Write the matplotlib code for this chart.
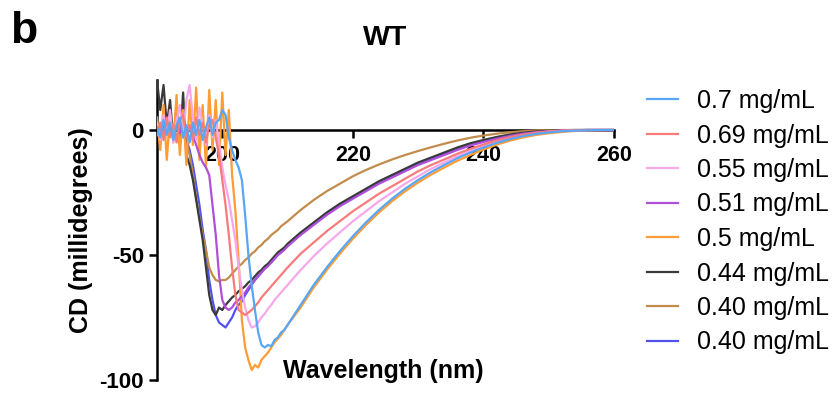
import numpy as np
import matplotlib
matplotlib.use("Agg")
import matplotlib.pyplot as plt

plt.rcParams['font.family'] = ['Liberation Sans', 'DejaVu Sans']
plt.rcParams['axes.unicode_minus'] = False

# wavelength grid (nm): 0.5 nm steps 190-210, then 2 nm steps 212-260
wavelength = np.concatenate([np.arange(190.0, 210.01, 0.5), np.arange(212.0, 260.01, 2.0)])

labels = ["0.7 mg/mL", "0.69 mg/mL", "0.55 mg/mL", "0.51 mg/mL",
          "0.5 mg/mL", "0.44 mg/mL", "0.40 mg/mL", "0.40 mg/mL"]
colors = ["#58a6f5", "#f77b7b", "#f7a8ea", "#b04fd8",
          "#ff9c33", "#3a3a3a", "#c28c4c", "#5252f2"]

cd_070 = [1, -3, 4, -2, 3, -4, 2, 5, -3, 2,
          -5, 3, -2, 4, -4, 1, 5, -2, 3, 4,
          8, 6, -3, -8, -12, -15, -20, -34, -50, -62,
          -72, -81, -86, -87, -86, -86.5, -84, -83, -81, -80,
          -78,
          -70, -62, -55, -48.5, -42.5, -37, -32, -27.5, -23.5, -20,
          -16.8, -14, -11.3, -9, -7, -5.2, -3.7, -2.5, -1.6, -1,
          -0.5, -0.25, -0.1, 0, 0]
cd_069 = [-2, 3, -4, 5, -3, 2, -5, 4, 6, -3,
          2, -4, 5, -2, 3, -5, 2, 4, -3, -10,
          -20, -30, -42, -55, -66, -72, -73, -74, -73, -72,
          -70.5, -69, -67, -65.5, -64, -62.5, -61, -59.5, -58, -56.5,
          -55,
          -49.5, -45, -40.5, -36.5, -32.5, -29, -25.5, -22.5, -19.5, -16.5,
          -14, -11.8, -9.5, -7.5, -5.8, -4.2, -2.9, -1.9, -1.1, -0.6,
          -0.3, -0.1, 0, 0, 0]
cd_055 = [3, -4, 6, -2, 8, -5, 4, 10, -3, 12,
          18, 5, -4, 9, 2, -6, 6, -3, 4, -5,
          -15, -22, -28, -36, -44, -55, -64, -71, -76, -79,
          -78.5, -77, -75, -73.5, -71.5, -70, -68, -66.5, -65, -63.5,
          -62,
          -56, -50.5, -45.5, -41, -36.5, -32.5, -28.5, -25, -21.5, -18.5,
          -15.5, -13, -10.5, -8.3, -6.4, -4.7, -3.3, -2.2, -1.3, -0.7,
          -0.3, -0.1, 0, 0, 0]
cd_051 = [-2, 1, -3, 2, 0, -2, 3, -1, 2, -3,
          1, -2, -6, -10, -13, -15, -18, -30, -42, -58,
          -68, -71, -72, -71, -69, -68, -66.5, -65, -63, -61.5,
          -60, -58.5, -57, -55.5, -54.5, -53, -51.5, -50, -49, -48,
          -46.5,
          -42, -38, -34, -30.5, -27.5, -24.5, -21.5, -19, -16.5, -14,
          -12, -10, -8, -6.2, -4.8, -3.5, -2.4, -1.5, -0.9, -0.5,
          -0.2, -0.1, 0, 0, 0]
cd_050 = [5, -8, 10, -12, 6, -5, 14, -10, 8, -14,
          12, -6, 17, -12, 10, -15, 16, -8, 12, -14,
          15, -10, 8, -18, -32, -52, -76, -87, -92, -96,
          -94, -95, -92, -90.5, -89, -87, -85, -83.5, -82, -80,
          -78,
          -71, -63, -56, -49.5, -43.5, -38, -33, -28.5, -24.5, -21,
          -17.8, -15, -12.3, -10, -7.8, -5.9, -4.3, -3, -2, -1.3,
          -0.8, -0.4, -0.2, -0.1, 0]
cd_044 = [20, 8, 18, 2, 12, -4, 10, -6, 15, -10,
          -14, -20, -28, -36, -44, -55, -66, -72, -74, -71,
          -72, -70, -68.5, -67, -66, -64.5, -63.5, -62.5, -61, -60,
          -58.5, -57, -56, -54.5, -53.5, -52, -50.5, -49, -48, -47,
          -45.5,
          -41, -37, -33, -29.5, -26.5, -23.5, -20.5, -18, -15.5, -13,
          -11, -9, -7, -5.3, -4, -2.8, -1.8, -1.1, -0.6, -0.3,
          -0.1, 0, 0, 0, 0]
cd_040a = [0, 2, -1, 3, -2, 1, -3, 2, -1, -5,
           -10, -18, -27, -35, -42, -48, -55, -58, -60, -60.5,
           -60, -60, -59, -57.5, -56, -54.5, -53.5, -52, -51, -49.5,
           -48.5, -47, -46, -44.5, -43.5, -42, -41, -40, -38.5, -37.5,
           -36.5,
           -32, -28, -24.5, -21.5, -18.5, -16, -13.8, -11.8, -10, -8.4,
           -6.9, -5.5, -4.2, -3.1, -2.2, -1.5, -0.9, -0.5, -0.2, -0.1,
           0, 0, 0, 0, 0]
cd_040b = [1, -2, 2, -1, 3, -2, 1, -3, 2, -4,
           -8, -14, -22, -30, -40, -48, -60, -68, -74, -77,
           -78, -79, -77, -75, -72, -70, -68.5, -66, -64, -62,
           -60, -58.5, -57, -55.5, -54, -53, -51.5, -50, -49, -47.5,
           -46.5,
           -41.5, -37.5, -33.5, -30, -27, -24, -21, -18.5, -16, -13.5,
           -11.5, -9.5, -7.5, -5.8, -4.4, -3.2, -2.2, -1.4, -0.8, -0.4,
           -0.2, -0.1, 0, 0, 0]

series = [cd_070, cd_069, cd_055, cd_051, cd_050, cd_044, cd_040a, cd_040b]

x_ticks = [200, 220, 240, 260]
y_ticks = [0, -50, -100]

fig = plt.figure(figsize=(8.32, 3.93), dpi=100)
ax = fig.add_axes([157/832, 1 - 380/393, 457/832, 300/393])

handles = [None] * len(series)
for i in reversed(range(len(series))):
    h, = ax.plot(wavelength, series[i], color=colors[i], lw=1.6, label=labels[i], zorder=2)
    handles[i] = h

ax.set_xlim(190, 260)
ax.set_ylim(-100, 20)

for s in ['top', 'right']:
    ax.spines[s].set_visible(False)
ax.spines['bottom'].set_position(('data', 0))
for s in ['left', 'bottom']:
    ax.spines[s].set_linewidth(1.8)
    ax.spines[s].set_zorder(1.5)

ax.set_xticks(x_ticks)
ax.set_xticklabels([str(t) for t in x_ticks], fontsize=15.5, fontweight='bold')
ax.set_yticks(y_ticks)
ax.set_yticklabels([str(t) for t in y_ticks], fontsize=16, fontweight='bold')
ax.tick_params(axis='both', direction='out', length=5.5, width=1.8, pad=4)
ax.tick_params(axis='x', pad=5)

ax.set_ylabel("CD (millidegrees)", fontsize=18, fontweight='bold')
ax.yaxis.set_label_coords(-0.14, 0.5)

ax.text(0.495, 0.0067, "Wavelength (nm)", transform=ax.transAxes, ha='center',
        va='baseline', fontsize=18, fontweight='bold')
ax.text(0.5, (380 - 45) / 300, "WT", transform=ax.transAxes, ha='center',
        va='baseline', fontsize=20.5, fontweight='bold')
fig.text(10/832, 1 - 43/393, "b", ha='left', va='baseline', fontsize=32, fontweight='bold')

leg = fig.legend(handles=handles, labels=labels, loc='upper left',
                 bbox_to_anchor=(647/832, 1 - 89/393), frameon=False,
                 fontsize=18, handlelength=1.25, handletextpad=0.75,
                 labelspacing=0.42, borderpad=0, borderaxespad=0)

fig.savefig("out.png", dpi=100)
